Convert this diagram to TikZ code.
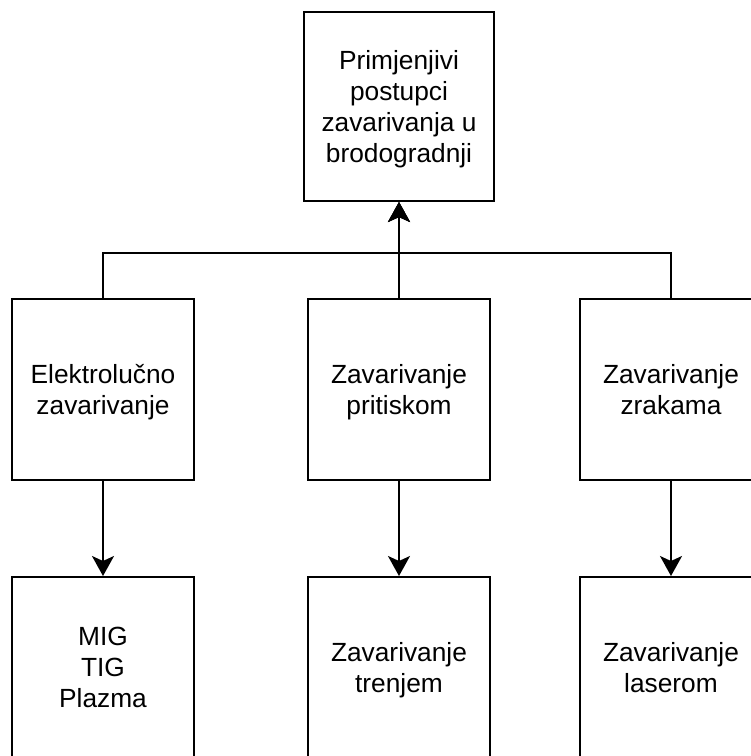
\documentclass[tikz,border=0pt]{standalone}
\usepackage{fontspec}
\setmainfont{Liberation Sans}
\usetikzlibrary{arrows.meta}
\newcommand\lnst{\rule[-6.2pt]{0pt}{31pt}}
\begin{document}
\begin{tikzpicture}[x=1pt,y=-1pt,
  box/.style={draw=black, line width=2pt, rectangle, inner sep=0pt, align=center,
    font=\fontsize{26.3}{31}\selectfont},
  topbox/.style={box, minimum width=190pt, minimum height=189pt},
  midbox/.style={box, minimum width=182pt, minimum height=181pt},
  conn/.style={draw=black, line width=2pt, -{Stealth[length=20pt, width=22pt, inset=5pt]}}]
\useasboundingbox (0,0) rectangle (751,756);
\clip (0,0) rectangle (751,756);
\fill[white] (0,0) rectangle (751,756);
\node[topbox] (top) at (399,106.5) {\lnst Primjenjivi\\\lnst postupci\\\lnst zavarivanja u\\\lnst brodogradnji};
\node[midbox] (m1) at (103,389.5) {\lnst Elektrolučno\\\lnst zavarivanje};
\node[midbox] (m2) at (399,389.5) {\lnst Zavarivanje\\\lnst pritiskom};
\node[midbox] (m3) at (671,389.5) {\lnst Zavarivanje\\\lnst zrakama};
\node[midbox] (b1) at (103,667.5) {\lnst MIG\\\lnst TIG\\\lnst Plazma};
\node[midbox] (b2) at (399,667.5) {\lnst Zavarivanje\\\lnst trenjem};
\node[midbox] (b3) at (671,667.5) {\lnst Zavarivanje\\\lnst laserom};
\coordinate (busL) at (103,253);
\coordinate (busR) at (671,253);
\coordinate (busM) at (399,253);
\draw[conn] (m1.north) -- (busL) -- (busM) -- (top.south);
\draw[conn] (m3.north) -- (busR) -- (busM) -- (top.south);
\draw[conn] (m2.north) -- (top.south);
\draw[conn] (m1.south) -- (b1.north);
\draw[conn] (m2.south) -- (b2.north);
\draw[conn] (m3.south) -- (b3.north);
\end{tikzpicture}
\end{document}
